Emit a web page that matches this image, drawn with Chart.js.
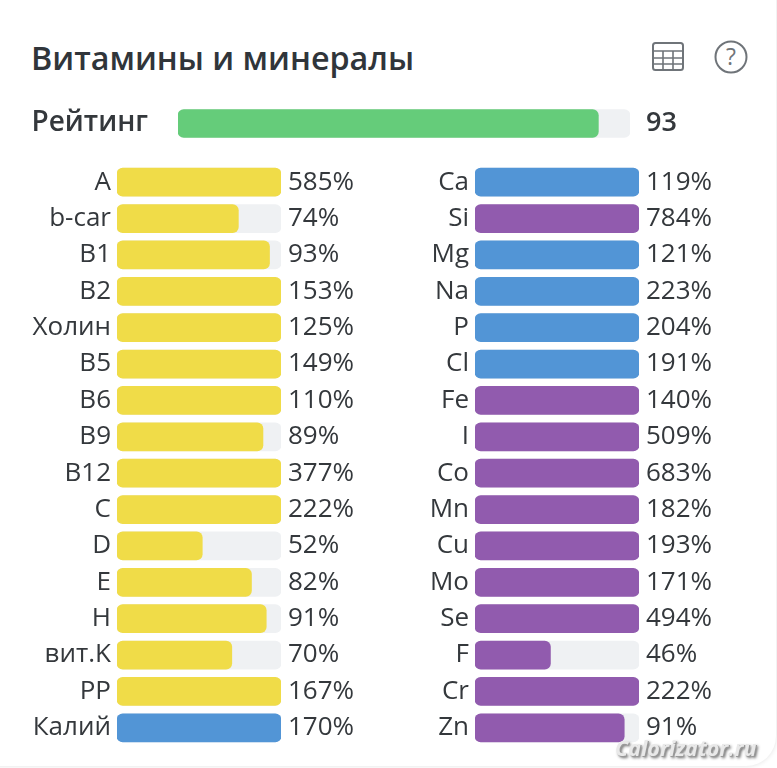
<!DOCTYPE html>
<html lang="ru"><head><meta charset="utf-8">
<script src="https://cdn.jsdelivr.net/npm/chart.js@4"></script>
<style>
html,body{margin:0;padding:0;background:#fff;width:777px;height:768px;overflow:hidden;font-family:"Open Sans",sans-serif}
canvas{position:absolute;display:block}
#title{position:absolute;left:31px;top:36px;font-size:32.3px;line-height:42px;font-weight:600;color:#30353a;white-space:nowrap}
#icons{position:absolute;left:0;top:0}
#corner{position:absolute;left:-10px;top:-10px;width:786px;height:776px;border-bottom-right-radius:30px;box-shadow:0 0 5px rgba(0,0,0,.12)}
#mark{position:absolute;left:615px;top:735px;font-size:21.5px;line-height:26px;font-weight:700;font-style:italic;color:#e9e9e9;text-shadow:1px 1px 0 #999,2px 2px 3px #666;white-space:nowrap}
</style></head><body>
<div id="corner"></div>
<div id="title">Витамины и минералы</div>
<svg id="icons" width="777" height="100" fill="none" stroke="#6f7479">
<rect x="653" y="43" width="30" height="27" rx="2.5" stroke-width="2"/>
<path d="M653 51H683M653 58H683M653 64H683M663 51V70M673 51V70" stroke-width="1.6"/>
<circle cx="731" cy="57" r="15.5" stroke-width="2"/>
<text x="731" y="65" text-anchor="middle" font-family="Open Sans" font-size="23" fill="#6f7479" stroke="none">?</text>
</svg>
<canvas id="rating" style="left:0;top:105px"></canvas>
<canvas id="left" style="left:0;top:164px"></canvas>
<canvas id="right" style="left:358px;top:164px"></canvas>
<div id="mark">Calorizator.ru</div>
<script>
const ratingLabels = ["Рейтинг"];
const ratingValues = [93];
const leftLabels = ["A","b-car","B1","B2","Холин","B5","B6","B9","B12","C","D","E","H","вит.K","PP","Калий"];
const leftValues = [585,74,93,153,125,149,110,89,377,222,52,82,91,70,167,170];
const rightLabels = ["Ca","Si","Mg","Na","P","Cl","Fe","I","Co","Mn","Cu","Mo","Se","F","Cr","Zn"];
const rightValues = [119,784,121,223,204,191,140,509,683,182,193,171,494,46,222,91];
const YELLOW="#F0DC48", BLUE="#5295D6", PURPLE="#915BAE", GREEN="#65CC7A", TRACK="#EFF1F3", TEXT="#34383c";
const leftColors = leftLabels.map(l=>l==="Калий"?BLUE:YELLOW);
const blueMinerals = ["Ca","Mg","Na","P","Cl"];
const rightColors = rightLabels.map(l=>blueMinerals.includes(l)?BLUE:PURPLE);

function make(id,labels,values,colors,o){
  const c=document.getElementById(id);
  const fit=w=>s=>{s.width=w;s.paddingTop=0;s.paddingBottom=0;};
  return new Chart(c,{
    type:"bar",
    data:{labels,datasets:[
      {data:values.map(v=>Math.min(v,100)),backgroundColor:colors,borderRadius:6,borderSkipped:false,barThickness:28,grouped:false},
      {data:labels.map(()=>100),backgroundColor:TRACK,borderRadius:6,borderSkipped:false,barThickness:28,grouped:false}
    ]},
    options:{
      indexAxis:"y",responsive:false,animation:false,devicePixelRatio:window.devicePixelRatio||1,
      layout:{padding:0},
      plugins:{legend:{display:false},tooltip:{enabled:false}},
      scales:{
        x:{display:false,min:0,max:100},
        y:{position:"left",grid:{display:false,drawTicks:false},border:{display:false},
           afterFit:fit(o.leftW),
           ticks:{color:TEXT,padding:o.pad,autoSkip:false,font:{family:"Open Sans",size:o.size,weight:o.weight}}},
        y2:{position:"right",type:"category",labels:values.map(v=>v+o.suffix),grid:{display:false,drawTicks:false},border:{display:false},
           afterFit:fit(o.rightW),
           ticks:{color:TEXT,padding:o.rpad,autoSkip:false,font:{family:"Open Sans",size:o.rsize||o.size,weight:o.rweight||o.weight}}}
      }
    }
  });
}
function size(id,w,h){const c=document.getElementById(id);c.width=w;c.height=h;c.style.width=w+"px";c.style.height=h+"px";}
size("rating",777,37);size("left",380,582);size("right",380,582);
make("rating",ratingLabels,ratingValues,[GREEN],{leftW:178,rightW:147,pad:30,size:28,weight:"600",rpad:16,suffix:"",rsize:27,rweight:"600"});
make("left",leftLabels,leftValues,leftColors,{leftW:117,rightW:99,pad:6,size:26,weight:"400",rpad:7,suffix:"%"});
make("right",rightLabels,rightValues,rightColors,{leftW:117,rightW:99,pad:6,size:26,weight:"400",rpad:7,suffix:"%"});
</script>
</body></html>
